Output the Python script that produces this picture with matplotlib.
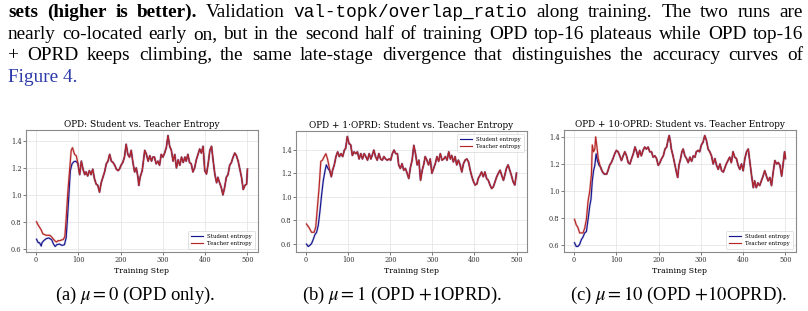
import numpy as np
import matplotlib
matplotlib.use('Agg')
import matplotlib.pyplot as plt

# ---------------- data ----------------
x_ticks = [0, 100, 200, 300, 400, 500]
y_ticks = [0.6, 0.8, 1.0, 1.2, 1.4]
titles = ["OPD: Student vs. Teacher Entropy",
          "OPD + 1\u00b7OPRD: Student vs. Teacher Entropy",
          "OPD + 10\u00b7OPRD: Student vs. Teacher Entropy"]
subcaptions = [r"(a) $\mu = 0$ (OPD only).",
               r"(b) $\mu = 1$ (OPD $+1$OPRD).",
               r"(c) $\mu = 10$ (OPD $+10$OPRD)."]
legend_locs = ["lower right", "upper right", "lower right"]

# Panel (a): OPD only
p1_student_early_steps = [1, 5, 8, 12, 14, 18, 24, 30, 37, 41, 45, 49, 55, 61, 67, 71, 74, 77, 81, 85, 89, 93, 97]
p1_student_early = [0.67, 0.645, 0.645, 0.62, 0.645, 0.66, 0.675, 0.68, 0.666, 0.635, 0.617, 0.63, 0.635,
                    0.625, 0.63, 0.68, 0.82, 0.97, 1.18, 1.23, 1.245, 1.25, 1.24]
p1_teacher_early_steps = [1, 4, 8, 12, 16, 20, 24, 28, 32, 36, 40, 44, 48, 52, 56, 60, 64, 68, 71, 75, 79, 83,
                          86, 91, 95]
p1_teacher_early = [0.80, 0.78, 0.76, 0.74, 0.71, 0.705, 0.70, 0.70, 0.70, 0.69, 0.675, 0.66, 0.65, 0.66,
                    0.66, 0.665, 0.668, 0.69, 0.82, 1.02, 1.18, 1.33, 1.35, 1.30, 1.29]
p1_shared_steps = [99, 103, 107, 111, 115, 118, 122, 126, 130, 134, 138, 142, 146, 150, 154, 158, 162, 166,
                   170, 174, 178, 182, 186, 190, 194, 197, 201, 205, 209, 213, 217, 221, 225, 229, 233, 237,
                   241, 243, 246, 251, 257, 261, 265, 269, 273, 276, 280, 284, 288, 292, 296, 300, 304, 308,
                   312, 316, 320, 324, 328, 332, 336, 340, 344, 348, 352, 355, 359, 363, 367, 371, 375, 379,
                   383, 387, 391, 395, 399, 403, 407, 411, 415, 419, 423, 427, 430, 434, 438, 442, 446, 450,
                   454, 458, 462, 466, 470, 474, 478, 482, 486, 490, 494, 498, 500]
p1_shared = [1.23, 1.15, 1.25, 1.19, 1.15, 1.17, 1.14, 1.18, 1.15, 1.19, 1.12, 1.08, 1.07, 1.02, 1.09, 1.13,
             1.17, 1.23, 1.25, 1.30, 1.25, 1.24, 1.22, 1.19, 1.18, 1.19, 1.22, 1.24, 1.28, 1.375, 1.30, 1.28,
             1.33, 1.24, 1.17, 1.20, 1.13, 1.07, 1.13, 1.18, 1.33, 1.30, 1.25, 1.29, 1.25, 1.28, 1.28, 1.23,
             1.25, 1.22, 1.30, 1.28, 1.31, 1.35, 1.44, 1.36, 1.33, 1.25, 1.30, 1.20, 1.26, 1.22, 1.28, 1.24,
             1.28, 1.25, 1.30, 1.24, 1.23, 1.17, 1.20, 1.26, 1.30, 1.34, 1.31, 1.36, 1.18, 1.155, 1.23, 1.33,
             1.36, 1.25, 1.15, 1.09, 1.13, 1.09, 1.055, 1.00, 1.055, 1.13, 1.15, 1.22, 1.24, 1.28, 1.31, 1.29,
             1.25, 1.19, 1.13, 1.04, 1.07, 1.08, 1.19]

# Panel (b): OPD + 1 OPRD
p2_student_early_steps = [1, 5, 9, 13, 17, 21, 25, 29, 33, 37, 41, 45, 48, 52, 56, 60]
p2_student_early = [0.60, 0.58, 0.59, 0.605, 0.64, 0.68, 0.70, 0.76, 0.88, 1.02, 1.14, 1.22, 1.27, 1.24,
                    1.22, 1.17]
p2_teacher_early_steps = [1, 7, 13, 19, 23, 27, 31, 35, 39, 43, 47, 51, 55, 60]
p2_teacher_early = [0.77, 0.74, 0.70, 0.70, 0.745, 0.915, 1.08, 1.30, 1.31, 1.34, 1.365, 1.32, 1.25, 1.17]
p2_shared_steps = [63, 67, 71, 75, 79, 83, 87, 91, 94, 98, 102, 106, 110, 114, 118, 122, 126, 130, 134, 138,
                   142, 146, 150, 154, 157, 161, 165, 169, 173, 177, 181, 185, 189, 193, 197, 201, 205, 209,
                   213, 217, 220, 224, 228, 232, 236, 240, 244, 248, 252, 256, 260, 264, 268, 272, 276, 280,
                   283, 287, 291, 295, 299, 303, 307, 311, 315, 319, 323, 327, 331, 335, 339, 343, 346, 350,
                   354, 358, 362, 366, 370, 374, 378, 382, 386, 390, 394, 398, 402, 406, 409, 413, 417, 421,
                   425, 429, 433, 437, 441, 445, 449, 453, 457, 461, 465, 469, 472, 476, 480, 484, 488, 492,
                   496, 500]
p2_shared = [1.225, 1.27, 1.34, 1.38, 1.34, 1.365, 1.34, 1.395, 1.41, 1.51, 1.45, 1.44, 1.35, 1.38, 1.365,
             1.38, 1.32, 1.365, 1.32, 1.365, 1.34, 1.31, 1.365, 1.32, 1.35, 1.395, 1.34, 1.31, 1.365, 1.32,
             1.31, 1.34, 1.32, 1.31, 1.32, 1.31, 1.365, 1.395, 1.365, 1.365, 1.27, 1.24, 1.28, 1.225, 1.24,
             1.20, 1.155, 1.25, 1.31, 1.435, 1.365, 1.27, 1.31, 1.14, 1.225, 1.28, 1.34, 1.31, 1.27, 1.32,
             1.20, 1.24, 1.28, 1.34, 1.30, 1.365, 1.31, 1.32, 1.34, 1.31, 1.38, 1.32, 1.35, 1.295, 1.34,
             1.27, 1.31, 1.27, 1.21, 1.28, 1.31, 1.32, 1.295, 1.225, 1.17, 1.127, 1.10, 1.11, 1.155, 1.18,
             1.21, 1.17, 1.21, 1.155, 1.14, 1.10, 1.07, 1.085, 1.127, 1.17, 1.20, 1.225, 1.18, 1.14, 1.18,
             1.24, 1.27, 1.225, 1.18, 1.127, 1.10, 1.20]

# Panel (c): OPD + 10 OPRD
p3_student_early_steps = [1, 5, 9, 13, 17, 21, 25, 29, 33, 37, 40, 43, 46, 49, 52, 55, 59, 63, 67, 71]
p3_student_early = [0.617, 0.59, 0.59, 0.605, 0.64, 0.66, 0.69, 0.70, 0.79, 0.89, 0.94, 1.075, 1.15, 1.19,
                    1.275, 1.225, 1.19, 1.175, 1.14, 1.125]
p3_teacher_early_steps = [1, 5, 9, 13, 17, 21, 25, 29, 33, 37, 41, 43, 46, 49, 51, 54, 57, 61, 64, 68, 72]
p3_teacher_early = [0.79, 0.75, 0.73, 0.69, 0.69, 0.69, 0.725, 0.79, 0.925, 1.0, 1.125, 1.34, 1.29, 1.31,
                    1.40, 1.325, 1.24, 1.19, 1.16, 1.14, 1.125]
p3_shared_steps = [77, 80, 84, 88, 92, 96, 100, 104, 108, 112, 116, 120, 124, 128, 132, 136, 140, 144, 148,
                   151, 155, 159, 163, 167, 171, 175, 179, 183, 187, 191, 195, 199, 203, 207, 211, 215, 219,
                   222, 225, 228, 230, 234, 238, 242, 245, 248, 252, 255, 258, 262, 266, 270, 274, 278, 282,
                   286, 289, 293, 297, 301, 305, 309, 313, 317, 321, 325, 329, 333, 337, 341, 345, 349, 353,
                   357, 360, 364, 368, 372, 376, 380, 384, 388, 392, 396, 400, 404, 408, 412, 416, 420, 424,
                   427, 431, 435, 439, 443, 447, 451, 455, 459, 463, 467, 471, 475, 479, 483, 487, 491, 494,
                   498, 500]
p3_shared = [1.125, 1.15, 1.19, 1.21, 1.24, 1.275, 1.30, 1.29, 1.26, 1.225, 1.26, 1.29, 1.26, 1.21, 1.20,
             1.24, 1.275, 1.325, 1.29, 1.25, 1.30, 1.26, 1.30, 1.325, 1.31, 1.325, 1.29, 1.29, 1.25, 1.26,
             1.24, 1.19, 1.21, 1.24, 1.26, 1.31, 1.325, 1.375, 1.41, 1.36, 1.31, 1.26, 1.20, 1.14, 1.10,
             1.19, 1.24, 1.29, 1.31, 1.26, 1.24, 1.21, 1.25, 1.22, 1.26, 1.25, 1.29, 1.30, 1.29, 1.34, 1.36,
             1.41, 1.375, 1.31, 1.29, 1.26, 1.20, 1.24, 1.19, 1.16, 1.20, 1.15, 1.14, 1.175, 1.20, 1.225,
             1.25, 1.21, 1.29, 1.25, 1.24, 1.19, 1.16, 1.20, 1.15, 1.24, 1.29, 1.31, 1.21, 1.11, 1.025,
             1.075, 1.025, 1.06, 1.04, 1.075, 1.11, 1.15, 1.11, 1.075, 1.10, 1.04, 1.14, 1.225, 1.20, 1.21,
             1.19, 1.11, 1.19, 1.29, 1.24]

panels = [
    (p1_student_early_steps + p1_shared_steps, p1_student_early + p1_shared,
     p1_teacher_early_steps + p1_shared_steps, p1_teacher_early + p1_shared),
    (p2_student_early_steps + p2_shared_steps, p2_student_early + p2_shared,
     p2_teacher_early_steps + p2_shared_steps, p2_teacher_early + p2_shared),
    (p3_student_early_steps + p3_shared_steps, p3_student_early + p3_shared,
     p3_teacher_early_steps + p3_shared_steps, p3_teacher_early + p3_shared),
]

# caption text above the figure
cap_lines = [
    [("sets", "b"), ("(higher", "b"), ("is", "b"), ("better).", "b"), ("Validation", "r"),
     ("val-topk/overlap_ratio", "m"), ("along", "r"), ("training.", "r"), ("The", "r"), ("two", "r"),
     ("runs", "r"), ("are", "r")],
    [(w, "r") for w in "nearly co-located early on, but in the second half of training OPD top-16 plateaus while OPD top-16".split()],
    [(w, "r") for w in "+ OPRD keeps climbing, the same late-stage divergence that distinguishes the accuracy curves of".split()],
    [("Figure 4.", "l")],
]

# ---------------- drawing ----------------
plt.rcParams['font.family'] = ['DejaVu Serif']
plt.rcParams['mathtext.fontset'] = 'stix'

W, H = 808, 311
fig = plt.figure(figsize=(W / 100, H / 100), dpi=100)

BLUE = '#16168f'
RED = '#b52626'
boxes = [(26, 130, 258, 252), (296, 131, 527, 252), (564, 130, 796, 252)]
sub_x = [135, 402, 679]

for i, (box, (ss, sv, ts, tv)) in enumerate(zip(boxes, panels)):
    l, t, r, b = box
    ax = fig.add_axes([l / W, 1 - b / H, (r - l) / W, (b - t) / H])
    ax.plot(ss, sv, color=BLUE, lw=1.7, alpha=0.18)
    ax.plot(ss, sv, color=BLUE, lw=0.85, label='Student entropy')
    ax.plot(ts, tv, color=RED, lw=1.7, alpha=0.22)
    ax.plot(ts, tv, color=RED, lw=0.85, label='Teacher entropy')
    ax.set_xticks(x_ticks)
    ax.set_yticks(y_ticks)
    ax.tick_params(labelsize=4.8, length=2, width=0.5, pad=1.2, colors='#444444', labelcolor='#333333')
    ax.set_xlabel('Training Step', fontsize=5.6, labelpad=1.5)
    ax.set_title(titles[i], fontsize=6.4, pad=2)
    ax.grid(True, color='#e2e2e2', lw=0.5, ls='-')
    ax.set_axisbelow(True)
    for sp in ax.spines.values():
        sp.set_color('#8a8a8a')
        sp.set_linewidth(0.8)
    leg = ax.legend(loc=legend_locs[i], fontsize=3.9, frameon=True, fancybox=True,
                    borderpad=0.5, handlelength=2.2, labelspacing=0.4, borderaxespad=0.6)
    leg.get_frame().set_edgecolor('#cccccc')
    leg.get_frame().set_linewidth(0.5)
    fig.text(sub_x[i] / W, 1 - 295 / H, subcaptions[i], ha='center', va='center',
             fontsize=13.4, family='Liberation Serif')

# justified caption
renderer = fig.canvas.get_renderer()
FS = 13.9
props = {
    "r": dict(family='Liberation Serif', fontsize=FS),
    "b": dict(family='Liberation Serif', fontsize=FS, fontweight='bold'),
    "m": dict(family='Liberation Mono', fontsize=12.8),
    "l": dict(family='Liberation Serif', fontsize=FS, color='#2a38a8'),
}
baselines = [17, 39, 60, 82]
left_px, right_px = 8, 803
for li, (line, yb) in enumerate(zip(cap_lines, baselines)):
    texts = []
    for word, kind in line:
        tt = fig.text(0, 1 - yb / H, word, va='baseline', ha='left', **props[kind])
        texts.append(tt)
    widths = [tt.get_window_extent(renderer=renderer).width for tt in texts]
    if li < len(cap_lines) - 1 and len(texts) > 1:
        gap = (right_px - left_px - sum(widths)) / (len(texts) - 1)
    else:
        gap = 4
    x = left_px
    for tt, w in zip(texts, widths):
        tt.set_x(x / W)
        x += w + gap

fig.savefig('out.png', dpi=100)
